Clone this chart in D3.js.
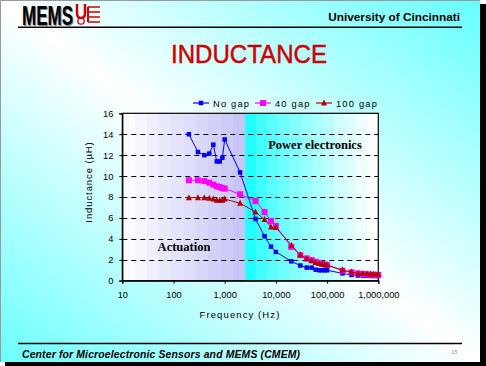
<!DOCTYPE html>
<html><head><meta charset="utf-8">
<script src="https://cdn.jsdelivr.net/npm/d3@7"></script>
<style>
html,body{margin:0;padding:0;background:#fff;}
svg{display:block;font-family:"Liberation Sans",Arial,sans-serif;}
</style></head>
<body>
<svg id="c" width="486" height="366"></svg>
<script>
// ---- data ----
const freqs = [200,300,400,500,600,700,800,900,1000,2000,4000,6000,8000,10000,20000,30000,40000,50000,60000,70000,80000,90000,100000,200000,300000,400000,500000,600000,700000,800000,900000,1000000];
const noGap = [14.0,12.3,12.0,12.15,13.0,11.4,11.4,11.75,13.5,10.35,5.9,4.25,3.25,2.75,1.85,1.45,1.25,1.25,1.05,1.0,1.0,1.0,1.0,0.7,0.55,0.5,0.48,0.47,0.46,0.45,0.45,0.45];
const gap40 = [9.6,9.6,9.52,9.37,9.18,9.02,8.95,8.85,8.8,8.26,7.62,6.57,5.71,5.24,3.24,2.45,2.13,1.97,1.81,1.7,1.6,1.55,1.5,0.95,0.8,0.7,0.64,0.6,0.58,0.56,0.55,0.55];
const gap100 = [7.94,7.94,7.94,7.87,7.8,7.69,7.69,7.69,7.8,7.4,6.57,5.84,5.14,5.08,3.4,2.45,2.1,1.9,1.75,1.65,1.6,1.55,1.5,1.02,0.83,0.7,0.68,0.67,0.65,0.62,0.6,0.6];
const seriesNames = ["No gap","40 gap","100 gap"];
const xTicks = [10,100,1000,10000,100000,1000000];
const yTicks = [0,2,4,6,8,10,12,14,16];
const regionLabels = ["Actuation","Power electronics"];
const regionBreak = 2500;

const svg = d3.select("#c");
const defs = svg.append("defs");
const SERIF = '"Liberation Serif","Times New Roman",serif';

// slide background
const bg = defs.append("linearGradient").attr("id","bg").attr("x1",0).attr("y1",1).attr("x2",1).attr("y2",0);
bg.append("stop").attr("offset",0).attr("stop-color","#6cffff");
bg.append("stop").attr("offset",0.5).attr("stop-color","#ffffff");
bg.append("stop").attr("offset",1).attr("stop-color","#66ffff");
svg.append("rect").attr("x",5).attr("y",4).attr("width",481).attr("height",362).attr("fill","#000");
svg.append("rect").attr("x",0).attr("y",0).attr("width",480).attr("height",362).attr("fill","url(#bg)");
svg.append("path").attr("d","M0.5,362V0.5H480").attr("stroke","#9a9a9a").attr("fill","none");

// header
svg.append("text").attr("x",23).attr("y",26).attr("font-size",27).attr("font-weight","bold")
  .attr("fill","#888").attr("textLength",51).attr("lengthAdjust","spacingAndGlyphs").text("MEMS");
svg.append("text").attr("x",22).attr("y",25).attr("font-size",27).attr("font-weight","bold")
  .attr("fill","#000").attr("textLength",51).attr("lengthAdjust","spacingAndGlyphs").text("MEMS");
const logo = svg.append("g").attr("stroke","#cc0000").attr("fill","none");
logo.append("path").attr("d","M77,4V13Q77,18 81,18Q85,18 85,13V4").attr("stroke-width",2.5);
logo.append("path").attr("d","M88,7H100M88,12H100M88,17H100M88,22H100").attr("stroke-width",1.5);
logo.append("path").attr("d","M88,7V22").attr("stroke-width",2);
logo.append("circle").attr("cx",81).attr("cy",21).attr("r",3.2).attr("stroke-width",1.3);
svg.append("text").attr("x",460).attr("y",21).attr("text-anchor","end").attr("font-size",11.8)
  .attr("font-weight","bold").text("University of Cincinnati");
svg.append("line").attr("x1",18).attr("x2",462).attr("y1",27.3).attr("y2",27.3).attr("stroke","#000").attr("stroke-width",1.6);

// title
svg.append("text").attr("x",249).attr("y",63).attr("text-anchor","middle").attr("font-size",26)
  .attr("fill","#cc0000").attr("stroke","#cc0000").attr("stroke-width",0.5)
  .attr("textLength",156).attr("lengthAdjust","spacingAndGlyphs").text("INDUCTANCE");

// footer
svg.append("line").attr("x1",18).attr("x2",462).attr("y1",343.5).attr("y2",343.5).attr("stroke","#000").attr("stroke-width",1.6);
svg.append("text").attr("x",22).attr("y",358).attr("font-size",10.4).attr("font-weight","bold")
  .attr("font-style","italic").attr("textLength",278).attr("lengthAdjust","spacing")
  .text("Center for Microelectronic Sensors and MEMS (CMEM)");
svg.append("text").attr("x",451).attr("y",354).attr("font-size",6).attr("fill","#999").text("15");

// chart
const x = d3.scaleLog().domain([10,1e6]).range([122.3,378.3]);
const y = d3.scaleLinear().domain([0,16]).range([280.7,113.3]);

// region backgrounds
const lav = defs.append("linearGradient").attr("id","lav");
const nb = 10;
const lavCol = d3.interpolateRgb("#fbfbff","#c6c6f6");
for(let i=0;i<nb;i++){
  lav.append("stop").attr("offset",i/nb).attr("stop-color",lavCol(i/(nb-1)));
  lav.append("stop").attr("offset",(i+1)/nb).attr("stop-color",lavCol(i/(nb-1)));
}
const cy = defs.append("linearGradient").attr("id","cy");
const cyCol = d3.interpolateRgb("#22ffff","#ffffff");
const nc = 12;
for(let i=0;i<nc;i++){
  cy.append("stop").attr("offset",i/nc).attr("stop-color",cyCol(Math.pow(i/(nc-1),0.8)));
  cy.append("stop").attr("offset",(i+1)/nc).attr("stop-color",cyCol(Math.pow(i/(nc-1),0.8)));
}
svg.append("rect").attr("x",x(10)).attr("y",y(16)).attr("width",x(regionBreak)-x(10)).attr("height",y(0)-y(16)).attr("fill","url(#lav)");
svg.append("rect").attr("x",x(regionBreak)).attr("y",y(16)).attr("width",x(1e6)-x(regionBreak)).attr("height",y(0)-y(16)).attr("fill","url(#cy)");

// gridlines
svg.append("g").selectAll("line").data(yTicks.filter(d=>d>0&&d<16)).join("line")
  .attr("x1",x(10)).attr("x2",x(1e6)).attr("y1",d=>Math.round(y(d))+0.5).attr("y2",d=>Math.round(y(d))+0.5)
  .attr("stroke","#000").attr("stroke-dasharray","5,4");

// region labels
svg.append("text").attr("x",184).attr("y",251).attr("text-anchor","middle").style("font-family",SERIF)
  .attr("font-weight","bold").attr("font-size",12.5).text(regionLabels[0]);
svg.append("text").attr("x",315).attr("y",149).attr("text-anchor","middle").style("font-family",SERIF)
  .attr("font-weight","bold").attr("font-size",12.5).text(regionLabels[1]);

// frame
svg.append("rect").attr("x",x(10)).attr("y",y(16)).attr("width",x(1e6)-x(10)).attr("height",y(0)-y(16))
  .attr("fill","none").attr("stroke","#000").attr("stroke-width",1.2);

// axes
const yAxis = d3.axisLeft(y).tickValues(yTicks).tickSize(3).tickPadding(6);
const gy = svg.append("g").attr("transform",`translate(${x(10)},0)`).call(yAxis);
const xAxis = d3.axisBottom(x).tickValues(xTicks).tickFormat(d3.format(",")).tickSize(3).tickPadding(8);
const gx = svg.append("g").attr("transform",`translate(0,${y(0)})`).call(xAxis);
[gx,gy].forEach(g=>{
  g.attr("font-family",null);
  g.select(".domain").attr("stroke","#000").attr("stroke-width",1.2);
  g.selectAll(".tick line").attr("stroke","#000");
  g.selectAll("text").attr("font-size",9.3).attr("fill","#000");
});

svg.append("text").attr("x",240).attr("y",318).attr("text-anchor","middle").attr("font-size",9.5)
  .attr("letter-spacing",1.1).text("Frequency (Hz)");
svg.append("text").attr("transform","translate(92,182) rotate(-90)").attr("text-anchor","middle")
  .attr("font-size",9.5).attr("letter-spacing",0.9).text("Inductance (\u00b5H)");

// series
const line = d3.line().x(d=>x(d[0])).y(d=>y(d[1]));
const series = [
  {name:seriesNames[0], vals:noGap, color:"#0000ff", marker:"sq", size:4.5},
  {name:seriesNames[1], vals:gap40, color:"#ff00ff", marker:"sq", size:6},
  {name:seriesNames[2], vals:gap100, color:"#b00000", marker:"tri", size:6}
];
function drawMarker(g, s, px, py){
  if(s.marker==="sq"){
    g.append("rect").attr("x",px-s.size/2).attr("y",py-s.size/2).attr("width",s.size).attr("height",s.size).attr("fill",s.color);
  } else {
    const h=s.size;
    g.append("path").attr("d",`M${px},${py-h/2-0.5}L${px+h/2},${py+h/2-0.5}L${px-h/2},${py+h/2-0.5}Z`).attr("fill",s.color);
  }
}
series.forEach(s=>{
  const pts = freqs.map((f,i)=>[f,s.vals[i]]);
  const g = svg.append("g");
  g.append("path").attr("d",line(pts)).attr("fill","none").attr("stroke",s.color).attr("stroke-width",1);
  pts.forEach(p=>drawMarker(g,s,x(p[0]),y(p[1])));
});

// legend
const legX = [193,255,316];
series.forEach((s,i)=>{
  const g = svg.append("g");
  g.append("line").attr("x1",legX[i]).attr("x2",legX[i]+16).attr("y1",103).attr("y2",103).attr("stroke",s.color).attr("stroke-width",1.2);
  drawMarker(g,s,legX[i]+8,103);
  g.append("text").attr("x",legX[i]+20).attr("y",106.5).attr("font-size",9.3).attr("letter-spacing",1.2).text(s.name);
});
</script>
</body></html>
